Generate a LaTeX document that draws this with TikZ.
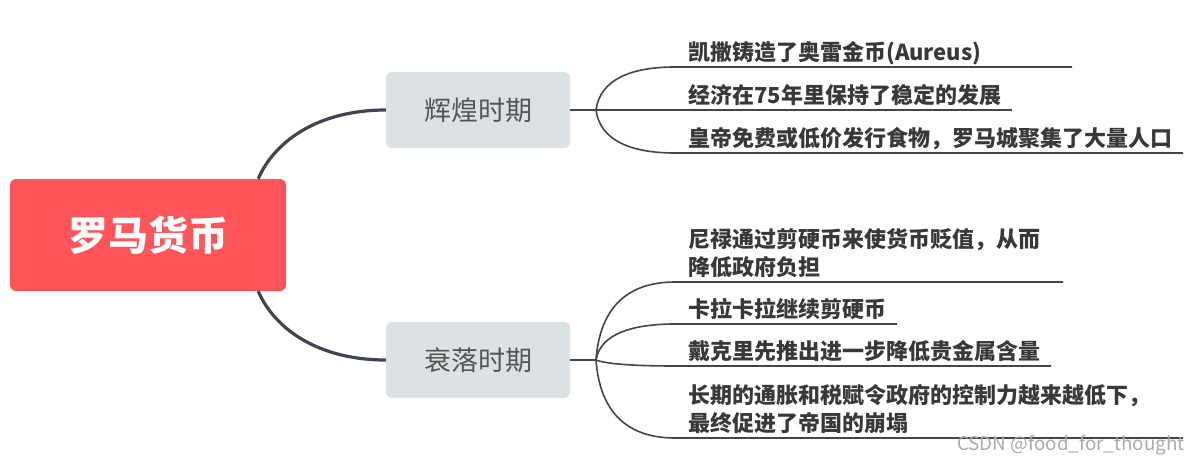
\documentclass[tikz,border=0pt]{standalone}
\usepackage{fontspec}
\setmainfont{Noto Sans CJK SC}
\usetikzlibrary{calc}
\definecolor{rootred}{HTML}{FF545A}
\definecolor{boxgray}{HTML}{DCE2E4}
\definecolor{linec}{HTML}{3F4650}
\definecolor{leaftext}{HTML}{383838}
\definecolor{branchtext}{HTML}{555555}
\definecolor{wmark}{HTML}{AAAAAA}
\begin{document}
\begin{tikzpicture}[x=1pt,y=-1pt,
 rootnode/.style={fill=rootred, rounded corners=6pt, minimum width=276pt, minimum height=112pt, text=white, font=\fontsize{40}{48}\selectfont\bfseries, inner sep=0pt},
 branchnode/.style={fill=boxgray, rounded corners=6pt, minimum width=184pt, minimum height=76pt, text=branchtext, font=\fontsize{27}{32}\selectfont, inner sep=0pt},
 leafnode/.style={anchor=base west, text=leaftext, font=\fontsize{22}{27}\selectfont\bfseries, inner sep=0pt},
 mainlink/.style={draw=linec, line width=3.2pt},
 sublink/.style={draw=linec, line width=1.6pt},
 wmnode/.style={anchor=west, text=wmark, font=\fontsize{18.8}{20}\selectfont, inner sep=0pt}
]
\useasboundingbox (0,0) rectangle (1202,466);

% main nodes
\node[rootnode] (root) at (148,235) {罗马货币};
\node[branchnode] (up) at (478,110) {辉煌时期};
\node[branchnode] (down) at (478,360) {衰落时期};

% main links
\draw[mainlink] ($(root.north east)+(-28,0)$) .. controls +(17,-39) and +(-66,0) .. (up.west);
\draw[mainlink] ($(root.south east)+(-28,0)$) .. controls +(17,39) and +(-66,0) .. (down.west);

% junctions
\coordinate (ju) at (596,110);
\coordinate (jd) at (596,360);
\draw[sublink] (up.east) -- (ju);
\draw[sublink] (down.east) -- (jd);

% upper leaves
\node[leafnode] (a1) at (688,60) {凯撒铸造了奥雷金币(Aureus)};
\node[leafnode] (a2) at (688,103) {经济在75年里保持了稳定的发展};
\node[leafnode] (a3) at (688,146) {皇帝免费或低价发行食物，罗马城聚集了大量人口};
\coordinate (a1s) at (675,67);  \coordinate (a1e) at (1072,67);
\coordinate (a2e) at (1012,110);
\coordinate (a3s) at (675,153); \coordinate (a3e) at (1183,153);
\draw[sublink] (ju) .. controls +(4,-30) and +(-45,0) .. (a1s) -- (a1e);
\draw[sublink] (ju) -- (a2e);
\draw[sublink] (ju) .. controls +(4,30) and +(-45,0) .. (a3s) -- (a3e);

% lower leaves
\node[leafnode] (b1) at (688,275) {\begin{tabular}[b]{@{}l@{}}尼禄通过剪硬币来使货币贬值，从而\\降低政府负担\end{tabular}};
\node[leafnode] (b2) at (688,317) {卡拉卡拉继续剪硬币};
\node[leafnode] (b3) at (688,359) {戴克里先推出进一步降低贵金属含量};
\node[leafnode] (b4) at (688,431) {\begin{tabular}[b]{@{}l@{}}长期的通胀和税赋令政府的控制力越来越低下，\\最终促进了帝国的崩塌\end{tabular}};
\coordinate (b1s) at (675,282); \coordinate (b1e) at (1063,282);
\coordinate (b2s) at (675,324); \coordinate (b2e) at (897,324);
\coordinate (b3s) at (675,366); \coordinate (b3e) at (1051,366);
\coordinate (b4s) at (675,438); \coordinate (b4e) at (1183,438);
\draw[sublink] (jd) .. controls +(4,-55) and +(-45,0) .. (b1s) -- (b1e);
\draw[sublink] (jd) .. controls +(4,-25) and +(-45,0) .. (b2s) -- (b2e);
\draw[sublink] (jd) .. controls +(10,4) and +(-40,0) .. (b3s) -- (b3e);
\draw[sublink] (jd) .. controls +(4,55) and +(-45,0) .. (b4s) -- (b4e);

% watermark
\node[wmnode] (wm) at (957,445) {CSDN @food\_for\_thought};
\end{tikzpicture}
\end{document}
